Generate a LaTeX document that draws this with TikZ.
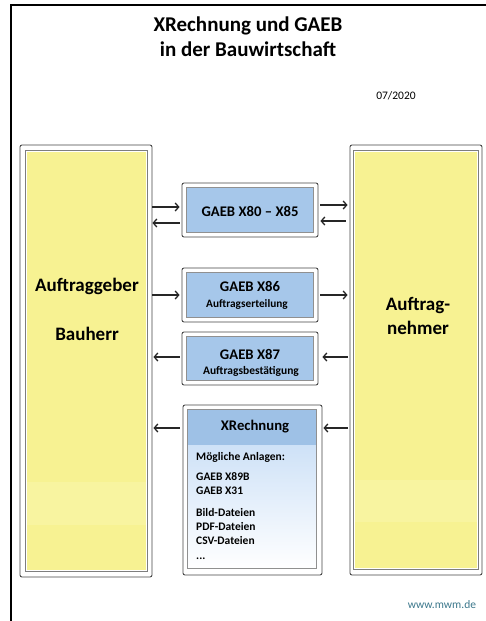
\documentclass[tikz,border=0pt]{standalone}
\usepackage{fontspec}
\setmainfont{Carlito}
\usetikzlibrary{arrows.meta}
\definecolor{ylw}{RGB}{247,242,146}
\definecolor{ylwlight}{RGB}{248,244,160}
\definecolor{blu}{RGB}{166,199,234}
\definecolor{bluhead}{RGB}{158,193,230}
\definecolor{blutop}{RGB}{192,217,245}
\definecolor{frm}{RGB}{70,70,70}
\definecolor{webc}{RGB}{60,120,140}
\tikzset{
  outerframe/.style={draw=frm, line width=0.9pt, rounded corners=2pt, fill=white, inner sep=0pt},
  innerframe/.style={draw=frm!70, line width=0.6pt},
  arr/.style={-{Straight Barb[length=3.5pt,width=8pt]}, line width=1.3pt, draw=black!85},
  bigtxt/.style={font=\bfseries\fontsize{19}{23}\selectfont},
  boxtxt/.style={font=\bfseries\fontsize{14.7}{17}\selectfont},
  smalltxt/.style={font=\bfseries\fontsize{11.5}{13}\selectfont},
}
\begin{document}
\begin{tikzpicture}[x=1pt,y=-1pt]
\useasboundingbox (0,0) rectangle (486,621);
\fill[white] (0,0) rectangle (486,621);
% page border lines
\draw[line width=1.8pt] (11,621) -- (11,5) -- (486,5);

% title
\node[font=\bfseries\fontsize{21}{25}\selectfont, align=center] (title) at (248,37) {XRechnung und GAEB\\in der Bauwirtschaft};
\node[font=\fontsize{11.5}{13}\selectfont] (date) at (396,96) {07/2020};

% left column
\node[outerframe, minimum width=132pt, minimum height=432pt] (L) at (86,361) {};
\fill[ylw] ([shift={(7,7)}]L.north west) rectangle ([shift={(-6,-7)}]L.south east);
\fill[ylwlight] ([shift={(7,-95)}]L.south west) rectangle ([shift={(-6,-52)}]L.south east);
\draw[innerframe] ([shift={(6,6)}]L.north west) rectangle ([shift={(-5,-6)}]L.south east);
\node[bigtxt] (Lt1) at (87,286) {Auftraggeber};
\node[bigtxt] (Lt2) at (87,334) {Bauherr};

% right column
\node[outerframe, minimum width=132pt, minimum height=430pt] (R) at (416,360) {};
\fill[ylw] ([shift={(5,7)}]R.north west) rectangle ([shift={(-5,-7)}]R.south east);
\fill[ylwlight] ([shift={(5,-53)}]R.south west) rectangle ([shift={(-5,-95)}]R.south east);
\draw[innerframe] ([shift={(4,6)}]R.north west) rectangle ([shift={(-4,-6)}]R.south east);
\node[bigtxt, align=center] (Rt) at (418,316) {Auftrag-\\[1pt]nehmer};

% box 1
\node[outerframe, minimum width=136pt, minimum height=54pt] (B1) at (250,210) {};
\fill[blu, draw=frm!60, line width=0.6pt] ([shift={(5,5)}]B1.north west) rectangle ([shift={(-5,-5)}]B1.south east);
\node[boxtxt] (B1t) at (250,211) {GAEB X80 -- X85};

% box 2
\node[outerframe, minimum width=136pt, minimum height=54pt] (B2) at (250,295) {};
\fill[blu, draw=frm!60, line width=0.6pt] ([shift={(5,5)}]B2.north west) rectangle ([shift={(-5,-5)}]B2.south east);
\node[boxtxt] (B2t) at (250,286) {GAEB X86};
\node[font=\bfseries\fontsize{11.3}{13}\selectfont] (B2s) at (247,304) {Auftragserteilung};

% box 3
\node[outerframe, minimum width=136pt, minimum height=53pt] (B3) at (250,358.5) {};
\fill[blu, draw=frm!60, line width=0.6pt] ([shift={(5,5)}]B3.north west) rectangle ([shift={(-5,-5)}]B3.south east);
\node[boxtxt] (B3t) at (250,354) {GAEB X87};
\node[smalltxt] (B3s) at (251,371) {Auftragsbestätigung};

% box 4
\node[outerframe, minimum width=139pt, minimum height=170pt] (B4) at (252.5,490) {};
\shade[top color=blutop, bottom color=white] ([shift={(5,5)}]B4.north west) rectangle ([shift={(-6,-7)}]B4.south east);
\fill[bluhead] ([shift={(5,5)}]B4.north west) rectangle ([shift={(-6,40)}]B4.north east);
\draw[frm!60, line width=0.6pt] ([shift={(5,5)}]B4.north west) rectangle ([shift={(-6,-7)}]B4.south east);
\node[boxtxt] (B4t) at (255,427) {XRechnung};
\node[smalltxt, anchor=west, inner sep=0pt] (B4a) at (196,457) {Mögliche Anlagen:};
\node[font=\bfseries\fontsize{11.5}{14.2}\selectfont, anchor=north west, align=left, inner sep=0pt] (B4l) at (196,472)
  {GAEB X89B\\GAEB X31\\[8pt]Bild-Dateien\\PDF-Dateien\\CSV-Dateien\\...};

% web
\node[font=\fontsize{11.5}{13}\selectfont, text=webc] (web) at (442,605) {www.mwm.de};

% arrows
\draw[arr, shorten >=2pt] (L.east |- 0,207) -- (B1.west |- 0,207);
\draw[arr, shorten <=2pt] (B1.west |- 0,223) -- (L.east |- 0,223);
\draw[arr, shorten <=2pt, shorten >=2pt] (B1.east |- 0,205) -- (R.west |- 0,205);
\draw[arr, shorten <=4pt, shorten >=2pt] (R.west |- 0,221) -- (B1.east |- 0,221);

\draw[arr, shorten >=2pt] (L.east |- 0,295) -- (B2.west |- 0,295);
\draw[arr, shorten <=2pt, shorten >=2pt] (B2.east |- 0,295) -- (R.west |- 0,295);

\draw[arr, shorten <=2pt, shorten >=1pt] (B3.west |- 0,357) -- (L.east |- 0,357);
\draw[arr, shorten <=2pt, shorten >=4pt] (R.west |- 0,357) -- (B3.east |- 0,357);

\draw[arr, shorten <=3pt, shorten >=1pt] (B4.west |- 0,428) -- (L.east |- 0,428);
\draw[arr, shorten <=2pt, shorten >=1pt] (R.west |- 0,428) -- (B4.east |- 0,428);
\end{tikzpicture}
\end{document}
